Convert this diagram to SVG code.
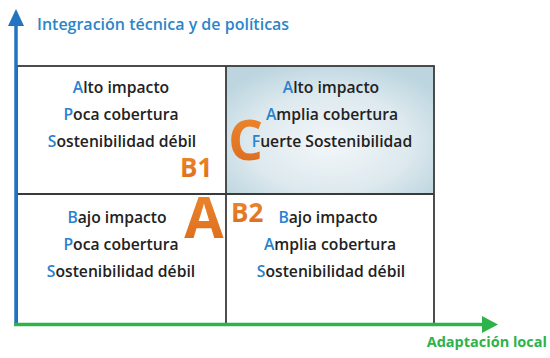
<svg xmlns="http://www.w3.org/2000/svg" width="550" height="358" viewBox="0 0 550 358">
<defs>
<style>
.t{font-family:"Open Sans","Liberation Sans",sans-serif;font-weight:600;font-size:15.7px;fill:#222222;text-anchor:middle}
.k{fill:#2a82cf}
.big{font-family:"Open Sans","Liberation Sans",sans-serif;font-weight:700;fill:url(#og)}
.grid{fill:none;stroke:#3a3a3a;stroke-width:1.8}
</style>
<radialGradient id="cg" cx="0.5" cy="0.6" r="0.65">
<stop offset="0" stop-color="#f3f7f9"/>
<stop offset="0.6" stop-color="#dde9ee"/>
<stop offset="1" stop-color="#bcd5df"/>
</radialGradient>
<linearGradient id="og" x1="0" y1="0" x2="0" y2="1">
<stop offset="0" stop-color="#f08a30"/>
<stop offset="1" stop-color="#d96a1c"/>
</linearGradient>
</defs>
<rect width="550" height="358" fill="#ffffff"/>
<text x="37" y="30" style="font-family:'Open Sans','Liberation Sans',sans-serif;font-weight:600;font-size:16px;fill:#2b86c9">Integración técnica y de políticas</text>
<g id="cell-top-left">
<rect x="17" y="66" width="209" height="128" fill="#ffffff"/>
<text class="t" x="121" y="93"><tspan class="k">A</tspan>lto impacto</text>
<text class="t" x="121" y="120"><tspan class="k">P</tspan>oca cobertura</text>
<text class="t" x="122" y="147"><tspan class="k">S</tspan>ostenibilidad débil</text>
</g>
<g id="cell-top-right">
<rect x="226" y="66" width="208" height="128" fill="url(#cg)"/>
<text class="big" x="228" y="160" font-size="55">C</text>
<text class="t" x="331" y="93"><tspan class="k">A</tspan>lto impacto</text>
<text class="t" x="332" y="120"><tspan class="k">A</tspan>mplia cobertura</text>
<text class="t" x="332" y="147"><tspan class="k">F</tspan>uerte Sostenibilidad</text>
</g>
<g id="cell-bottom-left">
<rect x="17" y="194" width="209" height="130" fill="#ffffff"/>
<text class="t" x="117" y="223"><tspan class="k">B</tspan>ajo impacto</text>
<text class="t" x="121" y="250"><tspan class="k">P</tspan>oca cobertura</text>
<text class="t" x="121" y="277"><tspan class="k">S</tspan>ostenibilidad débil</text>
</g>
<g id="cell-bottom-right">
<rect x="226" y="194" width="208" height="130" fill="#ffffff"/>
<text class="t" x="328" y="223"><tspan class="k">B</tspan>ajo impacto</text>
<text class="t" x="330" y="250"><tspan class="k">A</tspan>mplia cobertura</text>
<text class="t" x="331" y="277"><tspan class="k">S</tspan>ostenibilidad débil</text>
</g>
<g id="grid">
<rect class="grid" x="17" y="66" width="417" height="258"/>
<line class="grid" x1="226" y1="66" x2="226" y2="324"/>
<line class="grid" x1="17" y1="194" x2="434" y2="194"/>
</g>
<g id="label-B1"><text class="big" x="180" y="177" font-size="26">B1</text></g>
<g id="label-A"><text class="big" x="204" y="238" font-size="57" text-anchor="middle">A</text></g>
<g id="label-B2"><text class="big" x="231" y="222" font-size="26">B2</text></g>
<g id="connectors">
<line x1="16" y1="326" x2="16" y2="24" stroke="#2274c0" stroke-width="3.5"/>
<polygon points="8,26 16,9 24,26" fill="#2274c0"/>
<line x1="14" y1="324.5" x2="484" y2="324.5" stroke="#2db34a" stroke-width="3.5"/>
<polygon points="482,316 498,324.5 482,333" fill="#2db34a"/>
</g>
<text x="547" y="347" text-anchor="end" style="font-family:'Open Sans','Liberation Sans',sans-serif;font-weight:700;font-size:14.5px;fill:#2db34a">Adaptación local</text>
</svg>
